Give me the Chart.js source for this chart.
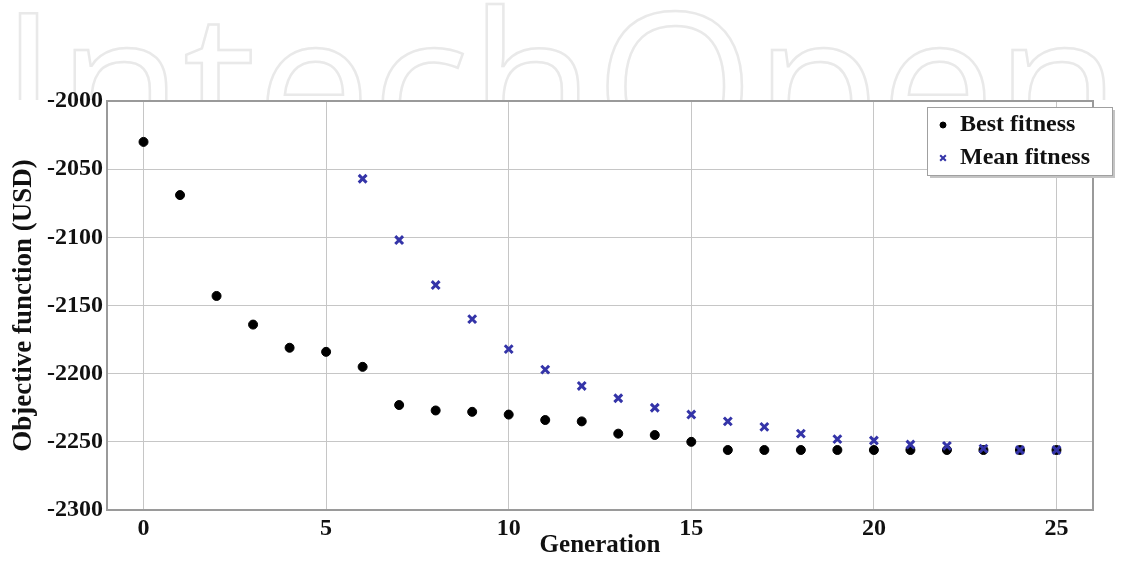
<!DOCTYPE html>
<html>
<head>
<meta charset="utf-8">
<title>Best and mean fitness per generation</title>
<script src="https://cdn.jsdelivr.net/npm/chart.js@4.4.1/dist/chart.umd.min.js"></script>
<style>
  html, body { margin: 0; padding: 0; background: #fff; }
  #chart { display: block; }
</style>
</head>
<body>
<canvas id="chart" width="1124" height="561"></canvas>
<script>
// Data
const generations = [0, 1, 2, 3, 4, 5, 6, 7, 8, 9, 10, 11, 12, 13, 14, 15, 16, 17, 18, 19, 20, 21, 22, 23, 24, 25];
const bestFitness = [-2030, -2069, -2143, -2164, -2181, -2184, -2195, -2223, -2227, -2228, -2230, -2234, -2235, -2244, -2245, -2250, -2256, -2256, -2256, -2256, -2256, -2256, -2256, -2256, -2256, -2256];
// mean fitness for generations 0-5 lies above the plotted range
const meanFitness = [null, null, null, null, null, null, -2057, -2102, -2135, -2160, -2182, -2197, -2209, -2218, -2225, -2230, -2235, -2239, -2244, -2248, -2249, -2252, -2253, -2255, -2256, -2256];

const xTickValues = [0, 5, 10, 15, 20, 25];
const yTickValues = [-2000, -2050, -2100, -2150, -2200, -2250, -2300];
const seriesNames = ["Best fitness", "Mean fitness"];

const serif = "'Liberation Serif', 'Times New Roman', serif";
const tickFont = { family: serif, size: 24, weight: "bold" };
const titleFont = { family: serif, size: 25, weight: "bold" };

function toPoints(ys) {
  const pts = [];
  generations.forEach((g, i) => {
    if (ys[i] !== null) pts.push({ x: g, y: ys[i] });
  });
  return pts;
}

// faint publisher watermark behind the top of the figure
const watermark = {
  id: "watermark",
  beforeDraw(chart) {
    const ctx = chart.ctx;
    ctx.save();
    ctx.beginPath();
    ctx.rect(0, 0, chart.width, 100);
    ctx.clip();
    ctx.font = "400 205px 'Open Sans', sans-serif";
    ctx.strokeStyle = "#e9e9e9";
    ctx.lineWidth = 2.5;
    ctx.textBaseline = "alphabetic";
    ctx.strokeText("IntechOpen", 0, 160);
    ctx.restore();
  },
};

// grey box round the plot area
const plotBox = {
  id: "plotBox",
  beforeDatasetsDraw(chart) {
    const { ctx, chartArea: a } = chart;
    ctx.save();
    ctx.strokeStyle = "#9a9a9a";
    ctx.lineWidth = 2;
    ctx.strokeRect(a.left, a.top, a.right - a.left, a.bottom - a.top);
    ctx.restore();
  },
};

// legend drawn as a boxed inset at the top right
const insetLegend = {
  id: "insetLegend",
  afterDraw(chart) {
    const ctx = chart.ctx;
    const x = 927, y = 107, w = 185, h = 68;
    ctx.save();
    ctx.fillStyle = "#c4c4c4";
    ctx.fillRect(x + 3, y + 3, w, h);
    ctx.fillStyle = "#fff";
    ctx.fillRect(x, y, w, h);
    ctx.strokeStyle = "#a0a0a0";
    ctx.lineWidth = 1;
    ctx.strokeRect(x + 0.5, y + 0.5, w, h);

    ctx.textBaseline = "middle";
    chart.data.datasets.forEach((ds, i) => {
      const cy = y + 18 + i * 33;
      ctx.fillStyle = ds.backgroundColor;
      ctx.strokeStyle = ds.borderColor;
      ctx.lineWidth = i === 0 ? 1 : 2;
      Chart.helpers.drawPoint(ctx, {
        pointStyle: ds.pointStyle,
        radius: i === 0 ? 3 : 4,
        borderWidth: ctx.lineWidth,
      }, x + 16, cy);
      ctx.font = "bold 24px " + serif;
      ctx.fillStyle = "#111";
      ctx.fillText(seriesNames[i], x + 33, cy);
    });
    ctx.restore();
  },
};

const ctx = document.getElementById("chart");

const chart = new Chart(ctx, {
  type: "scatter",
  data: {
    datasets: [
      {
        label: seriesNames[0],
        data: toPoints(bestFitness),
        pointStyle: "circle",
        pointRadius: 4.5,
        backgroundColor: "#000",
        borderColor: "#000",
        borderWidth: 1,
        order: 2,
      },
      {
        label: seriesNames[1],
        data: toPoints(meanFitness),
        pointStyle: "crossRot",
        pointRadius: 5.5,
        backgroundColor: "#3434a8",
        borderColor: "#3434a8",
        borderWidth: 3,
        order: 1,
      },
    ],
  },
  options: {
    responsive: false,
    animation: false,
    devicePixelRatio: 1,
    layout: { padding: { top: 101, right: 31, left: 0, bottom: 0 } },
    scales: {
      x: {
        type: "linear",
        min: -1,
        max: 26,
        afterBuildTicks: (s) => { s.ticks = xTickValues.map((v) => ({ value: v })); },
        afterFit: (s) => { s.height = 51; },
        grid: { color: "#c6c6c6", lineWidth: 1, drawTicks: false },
        border: { display: false },
        ticks: { font: tickFont, padding: 4, color: "#111", maxRotation: 0, callback: (v) => String(v) },
        title: { display: true, text: "Generation", font: titleFont, color: "#111", padding: { top: 0, bottom: 0 } },
      },
      y: {
        type: "linear",
        min: -2300,
        max: -2000,
        afterBuildTicks: (s) => { s.ticks = yTickValues.map((v) => ({ value: v })); },
        afterFit: (s) => { s.width = 107; },
        grid: { color: "#c6c6c6", lineWidth: 1, drawTicks: false },
        border: { display: false },
        ticks: { font: tickFont, padding: 4, color: "#111", callback: (v) => String(v) },
        title: { display: true, text: "Objective function (USD)", font: { family: serif, size: 27, weight: "bold" }, color: "#111", padding: { top: 8, bottom: 0 } },
      },
    },
    plugins: {
      legend: { display: false },
      tooltip: { enabled: false },
    },
  },
  plugins: [watermark, plotBox, insetLegend],
});
</script>
</body>
</html>
